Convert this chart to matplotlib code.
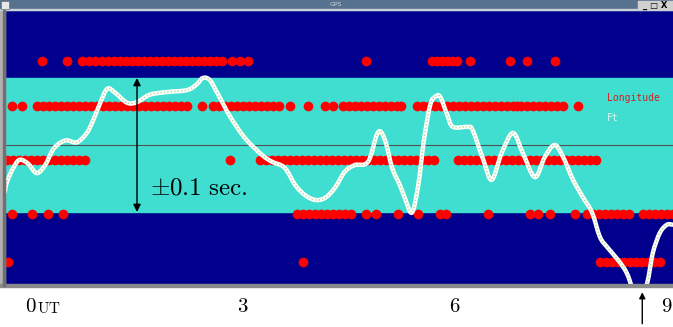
import matplotlib.pyplot as plt
from matplotlib.patches import Rectangle, PathPatch
from matplotlib.path import Path
import numpy as np

plt.rcParams['mathtext.fontset'] = 'cm'

# tick labels (UT hours)
tick_pos = [0, 3, 6, 9]
tick_labels = ['$0$', '$3$', '$6$', '$9$']

# red dot rows: level (sec) and times (hours)
row1_y = 0.125
row1_t = [0.16, 0.51, 0.72, 0.82, 0.91, 1.00, 1.09, 1.18, 1.26, 1.35, 1.43, 1.52, 1.60,
          1.69, 1.77, 1.86, 1.94, 2.03, 2.11, 2.20, 2.28, 2.37, 2.45, 2.54, 2.62, 2.70,
          2.84, 2.96, 3.07, 4.74, 5.67, 5.74, 5.81, 5.89, 5.96, 6.03, 6.21, 6.78, 7.02, 7.41]

row2_y = 0.058
row2_t = [-0.27, -0.13, 0.08, 0.17, 0.25, 0.34, 0.42, 0.51, 0.59, 0.68, 0.76, 0.85, 0.93,
          1.02, 1.10, 1.19, 1.27, 1.36, 1.44, 1.53, 1.61, 1.70, 1.78, 1.87, 1.95, 2.04,
          2.12, 2.21, 2.42, 2.58, 2.66, 2.75, 2.83, 2.92, 3.00, 3.09, 3.17, 3.26, 3.34,
          3.43, 3.51, 3.66, 3.92, 4.16, 4.27, 4.41, 4.50, 4.58, 4.67, 4.75, 4.84, 4.92,
          5.01, 5.09, 5.18, 5.24, 5.46, 5.55, 5.63, 5.72, 5.80, 5.89, 5.97, 6.06, 6.14,
          6.23, 6.31, 6.40, 6.48, 6.57, 6.65, 6.74, 6.82, 6.88, 6.93, 7.02, 7.10, 7.19,
          7.27, 7.36, 7.44, 7.53, 7.74]

row3_y = -0.022
row3_t = [-0.34, -0.25, -0.17, -0.08, 0.00, 0.08, 0.17, 0.25, 0.34, 0.42, 0.51, 0.59,
          0.68, 0.76, 2.82, 3.24, 3.33, 3.41, 3.50, 3.58, 3.67, 3.75, 3.84, 3.92, 4.01,
          4.09, 4.18, 4.26, 4.35, 4.43, 4.52, 4.60, 4.69, 4.77, 4.86, 4.94, 5.03, 5.11,
          5.20, 5.28, 5.37, 5.45, 5.54, 5.62, 5.70, 6.04, 6.13, 6.21, 6.30, 6.38, 6.47,
          6.55, 6.64, 6.72, 6.81, 6.89, 6.98, 7.06, 7.15, 7.23, 7.32, 7.40, 7.49, 7.57,
          7.66, 7.74, 7.83, 7.91, 7.99]

row4_y = -0.103
row4_t = [-0.27, 0.01, 0.24, 0.45, 3.76, 3.85, 3.93, 4.02, 4.10, 4.19, 4.27, 4.36, 4.44,
          4.53, 4.74, 4.88, 5.19, 5.48, 5.79, 5.87, 6.47, 7.06, 7.17, 7.34, 7.70, 7.87,
          7.95, 8.04, 8.12, 8.21, 8.29, 8.38, 8.46, 8.66, 8.74, 8.83, 8.91, 9.00, 9.08]

row5_y = -0.175
row5_t = [-0.33, 3.85, 8.05, 8.14, 8.22, 8.31, 8.39, 8.48, 8.56, 8.65, 8.73, 8.82, 8.90]

# white curve
curve_t = [-0.37, -0.34, -0.25, -0.16, -0.04, 0.08, 0.20, 0.31, 0.41, 0.51,
           0.65, 0.79, 0.88, 0.98, 1.08, 1.19, 1.36, 1.50, 1.68, 1.92,
           2.21, 2.35, 2.43, 2.53, 2.65, 2.82, 3.03, 3.27, 3.41, 3.59,
           3.74, 3.88, 4.02, 4.16, 4.30, 4.44, 4.58, 4.77, 4.91, 5.01,
           5.11, 5.22, 5.29, 5.39, 5.48, 5.56, 5.65, 5.72, 5.79, 5.89,
           5.97, 6.18, 6.25, 6.40, 6.52, 6.66, 6.82, 6.96, 7.13, 7.27,
           7.41, 7.53, 7.67, 7.81, 7.94, 8.05, 8.15, 8.31, 8.43, 8.52,
           8.62, 8.72, 8.80, 8.90, 9.00, 9.08]
curve_s = [-0.070, -0.055, -0.034, -0.022, -0.028, -0.042, -0.030, -0.007, 0.003, 0.007,
           0.004, 0.018, 0.037, 0.063, 0.084, 0.078, 0.063, 0.064, 0.075, 0.079,
           0.082, 0.091, 0.100, 0.097, 0.075, 0.042, 0.010, -0.015, -0.025, -0.034,
           -0.060, -0.075, -0.082, -0.079, -0.064, -0.040, -0.030, -0.025, 0.019, 0.007,
           -0.034, -0.060, -0.079, -0.101, -0.060, 0.007, 0.060, 0.072, 0.072, 0.045,
           0.027, 0.027, 0.022, -0.022, -0.052, -0.012, 0.018, -0.012, -0.048, -0.018,
           0.000, -0.018, -0.052, -0.078, -0.101, -0.137, -0.152, -0.172, -0.191, -0.216,
           -0.231, -0.206, -0.161, -0.131, -0.119, -0.119]

navy = '#00008c'
cyan = '#40ded0'

fig = plt.figure(figsize=(6.73, 3.27), dpi=100)
W, H = 673, 327
ax = fig.add_axes([5 / W, (H - 284) / H, 668 / W, 274 / H])
ax.set_xlim(-0.368, 9.085)
ax.set_ylim(-0.2075, 0.2015)
ax.set_facecolor(navy)
ax.axhspan(-0.1, 0.1, color=cyan, zorder=0)
ax.axhline(0, color='#505050', lw=0.8, zorder=1)

for ty, tt in [(row1_y, row1_t), (row2_y, row2_t), (row3_y, row3_t),
               (row4_y, row4_t), (row5_y, row5_t)]:
    ax.plot(tt, [ty] * len(tt), 'o', color='red', ms=7, mec='none', zorder=2)

# smooth path through the curve points (Catmull-Rom as cubic Bezier)
pts = np.column_stack([curve_t, curve_s])
n = len(pts)
verts = [pts[0]]
codes = [Path.MOVETO]
for i in range(n - 1):
    p0 = pts[max(i - 1, 0)]
    p1 = pts[i]
    p2 = pts[i + 1]
    p3 = pts[min(i + 2, n - 1)]
    verts += [p1 + (p2 - p0) / 6, p2 - (p3 - p1) / 6, p2]
    codes += [Path.CURVE4] * 3
path = Path(verts, codes)
ax.add_patch(PathPatch(path, facecolor='none', edgecolor='white', lw=3.2,
                       capstyle='round', joinstyle='round', zorder=3))
ax.add_patch(PathPatch(path, facecolor='none', edgecolor='#b4d88c', lw=1.0,
                       ls=(0, (1, 1.5)), zorder=4))

ax.annotate('', xy=(1.50, 0.1), xytext=(1.50, -0.1),
            arrowprops=dict(arrowstyle='<|-|>', color='black', lw=1,
                            mutation_scale=11, shrinkA=0, shrinkB=0), zorder=5)
ax.text(1.68, -0.063, r'$\pm0.1\ \mathrm{sec.}$', fontsize=18, va='center', ha='left',
        zorder=5)

ax.text(8.15, 0.070, 'Longitude', color='#d42020', family='DejaVu Sans Mono',
        fontsize=7, va='center')
ax.text(8.15, 0.040, 'Ft', color='#e8f4f0', family='DejaVu Sans Mono',
        fontsize=7, va='center')

ax.set_xticks(tick_pos)
ax.set_xticklabels(tick_labels, fontsize=15)
ax.tick_params(axis='x', length=0, pad=9)
ax.set_yticks([])
for sp in ax.spines.values():
    sp.set_visible(False)

# "UT" after the zero label
ax.annotate(r'$\mathrm{UT}$', xy=(0.09, 0), xycoords=('data', 'axes fraction'),
            xytext=(0, -29), textcoords='offset pixels', fontsize=11,
            ha='left', va='baseline', annotation_clip=False)

# arrow below the axis
ax.annotate('', xy=(8.65, -0.03), xycoords=('data', 'axes fraction'),
            xytext=(8.65, -0.145), textcoords=('data', 'axes fraction'),
            arrowprops=dict(arrowstyle='-|>', color='black', lw=1,
                            mutation_scale=9, shrinkA=0, shrinkB=0),
            annotation_clip=False)

# window chrome
tf = fig.transFigure
fig.add_artist(Rectangle((0, (H - 10) / H), 1, 10 / H, transform=tf,
                         color='#56728e', zorder=10))
fig.add_artist(Rectangle((0, (H - 10) / H), 1, 1.2 / H, transform=tf,
                         color='#c8d0d8', zorder=11))
fig.add_artist(Rectangle((1 / W, (H - 9) / H), 8 / W, 8 / H, transform=tf,
                         facecolor='#e8e8e8', edgecolor='#707070', lw=0.5, zorder=12))
fig.add_artist(Rectangle((638 / W, (H - 9) / H), 35 / W, 8 / H, transform=tf,
                         color='#d0d0d0', zorder=12))
fig.text(336 / W, (H - 5) / H, 'GPS', color='#c8d0d8', fontsize=4.5,
         ha='center', va='center', zorder=13)
fig.text(655 / W, (H - 5) / H, '_ \u25a1 X', color='black', fontsize=6,
         ha='center', va='center', zorder=13, weight='bold')
fig.add_artist(Rectangle((0, (H - 286) / H), 5 / W, 276 / H, transform=tf,
                         color='#b0b0b0', zorder=10))
fig.add_artist(Rectangle((3 / W, (H - 286) / H), 2 / W, 276 / H, transform=tf,
                         color='#707070', zorder=11))
fig.add_artist(Rectangle((0, (H - 287) / H), 1, 3 / H, transform=tf,
                         color='#8a8a8a', zorder=10))

fig.savefig('out.png', dpi=100)
